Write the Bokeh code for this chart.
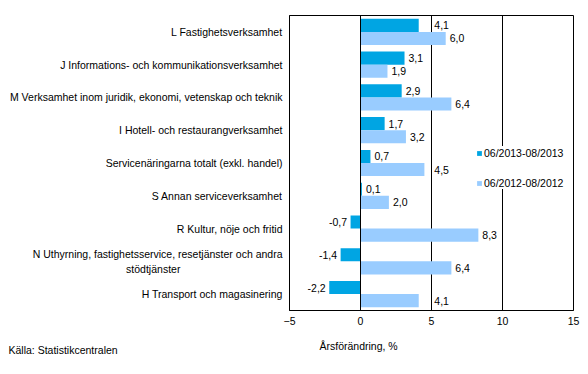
from bokeh.plotting import figure
from bokeh.models import Range1d, FixedTicker, ColumnDataSource, Legend, LegendItem, Span, Title, Label
from bokeh.core.properties import value
from bokeh.embed import file_html
from bokeh.resources import INLINE

categories = [
    "L Fastighetsverksamhet",
    "J Informations- och kommunikationsverksamhet",
    "M Verksamhet inom juridik, ekonomi, vetenskap och teknik",
    "I Hotell- och restaurangverksamhet",
    "Servicenäringarna totalt (exkl. handel)",
    "S Annan serviceverksamhet",
    "R Kultur, nöje och fritid",
    "N Uthyrning, fastighetsservice, resetjänster och andra\nstödtjänster",
    "H Transport och magasinering",
]
series_2013 = [4.1, 3.1, 2.9, 1.7, 0.7, 0.1, -0.7, -1.4, -2.2]
series_2012 = [6.0, 1.9, 6.4, 3.2, 4.5, 2.0, 8.3, 6.4, 4.1]
series_names = ["06/2013-08/2013", "06/2012-08/2012"]
x_ticks = [-5, 0, 5, 10, 15]
grid_ticks = [0, 5, 10]
x_title = "Årsförändring, %"
source_note = "Källa: Statistikcentralen"

DARK = "#00A5E3"
LIGHT = "#99CCFF"
FONT = "Liberation Sans"
FS = "10.5px"


def centre_lines(label):
    # right-aligned tick labels: pad shorter lines with no-break spaces so they look centred
    lines = label.split("\n")
    if len(lines) == 1:
        return label
    widths = [len(l) * 0.46 / 0.278 for l in lines]
    wmax = max(widths)
    out = []
    for l, w in zip(lines, widths):
        pad = int(round((wmax - w) / 2))
        out.append(l + "\u00a0" * pad)
    return "\n".join(out)


n = len(categories)
p = figure(width=588, height=374, output_backend="svg", toolbar_location=None,
           x_range=Range1d(-5, 15), y_range=Range1d(n, 0),
           min_border_left=289, min_border_right=15, min_border_top=15, min_border_bottom=64)
p.outline_line_color = "black"
p.outline_line_width = 1
p.background_fill_color = "white"
p.border_fill_color = "white"

centers = [i + 0.5 for i in range(n)]
p.ygrid.visible = False
p.yaxis.ticker = FixedTicker(ticks=centers)
p.yaxis.major_label_overrides = {c: centre_lines(lab) for c, lab in zip(centers, categories)}
p.yaxis.major_tick_in = 0
p.yaxis.major_tick_out = 0
p.yaxis.minor_tick_in = 0
p.yaxis.minor_tick_out = 0
p.yaxis.axis_line_color = "black"
p.yaxis.major_label_standoff = 7
p.yaxis.major_label_text_font = FONT
p.yaxis.major_label_text_font_size = FS
p.yaxis.major_label_text_color = "black"

p.xgrid.ticker = FixedTicker(ticks=grid_ticks)
p.xgrid.grid_line_color = "black"
p.xgrid.grid_line_width = 1
p.xaxis.ticker = FixedTicker(ticks=x_ticks)
p.xaxis.major_tick_in = 0
p.xaxis.major_tick_out = 0
p.xaxis.minor_tick_in = 0
p.xaxis.minor_tick_out = 0
p.xaxis.axis_line_color = "black"
p.xaxis.major_label_standoff = 6
p.xaxis.major_label_text_font = FONT
p.xaxis.major_label_text_font_size = FS
p.xaxis.major_label_text_color = "black"

y_dark = [c - 0.2 for c in centers]
y_light = [c + 0.2 for c in centers]

r1 = p.hbar(y=y_dark, right=series_2013, left=0, height=0.4, fill_color=DARK, line_color=None)
r2 = p.hbar(y=y_light, right=series_2012, left=0, height=0.4, fill_color=LIGHT, line_color=None)

p.add_layout(Span(location=0, dimension="height", line_color="black", line_width=1))

# value labels
def label_pos(v):
    if v >= 0:
        lx = v + 0.28
        for g in grid_ticks[1:]:
            if lx < g < lx + 1.0:
                lx = g + 0.2
        return lx, "left"
    return v - 0.25, "right"

xs, ys, txt, al = [], [], [], []
for vals, yy in ((series_2013, y_dark), (series_2012, y_light)):
    for v, y in zip(vals, yy):
        lx, a = label_pos(v)
        xs.append(lx); ys.append(y); al.append(a)
        txt.append(f"{v:.1f}".replace(".", ","))
src = ColumnDataSource(dict(x=xs, y=ys, text=txt, align=al))
p.text(x="x", y="y", text="text", text_align="align", text_baseline="middle",
       text_font=value(FONT), text_font_size=FS, text_color="black", source=src)

t1 = Title(text=x_title, align="left", offset=30, standoff=20,
           text_font=FONT, text_font_size=FS, text_font_style="normal", text_color="black")
p.add_layout(t1, "below")
note = Label(text=source_note, x=-281, y=24, x_units="screen", y_units="screen",
             text_align="left", text_baseline="middle",
             text_font=FONT, text_font_size=FS, text_color="black")
p.add_layout(note, "below")

legend = Legend(items=[LegendItem(label=series_names[0], renderers=[r1]),
                       LegendItem(label=series_names[1], renderers=[r2])],
                location=(187, 121), orientation="vertical",
                padding=8, spacing=17, label_height=13, glyph_width=6, glyph_height=6,
                label_standoff=2, margin=0, border_line_color=None,
                background_fill_color="white", background_fill_alpha=1.0,
                label_text_font=FONT, label_text_font_size=FS, label_text_color="black")
p.add_layout(legend, "center")

open("out.html", "w").write(file_html(p, INLINE))
